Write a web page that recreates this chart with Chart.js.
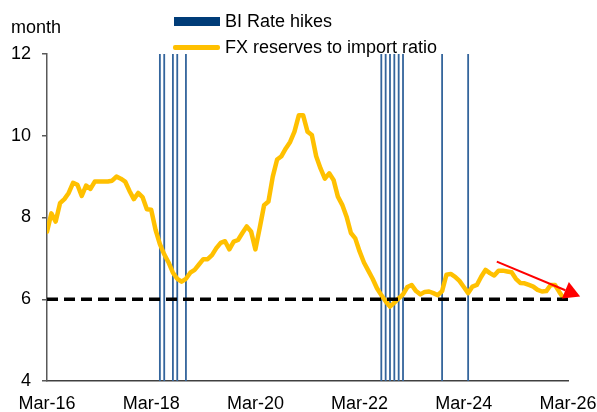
<!DOCTYPE html>
<html>
<head>
<meta charset="utf-8">
<script src="https://cdn.jsdelivr.net/npm/chart.js@4.4.1/dist/chart.umd.min.js"></script>
<style>
  body { margin: 0; background: #fff; }
  #wrap { position: relative; width: 597px; height: 412px; font-family: "Liberation Sans", Arial, sans-serif; color: #000; }
  #chart { position: absolute; left: 0; top: 0; }
  .lbl { position: absolute; font-size: 18px; line-height: 20px; white-space: nowrap; }
  .swatch { position: absolute; }
</style>
</head>
<body>
<div id="wrap">
  <canvas id="chart" width="597" height="412"></canvas>
  <div class="lbl" style="left:11px;top:17px;">month</div>
  <div class="swatch" style="left:174px;top:17px;width:46px;height:9px;background:#003C78;"></div>
  <div class="lbl" style="left:225px;top:11px;">BI Rate hikes</div>
  <div class="swatch" style="left:173px;top:45px;width:47px;height:5px;background:#FFC000;border-radius:2px;"></div>
  <div class="lbl" style="left:225px;top:37px;">FX reserves to import ratio</div>
</div>
<script>
// months counted from Mar-16 (0) to Mar-26 (120)
const xTickLabels = ['Mar-16', 'Mar-18', 'Mar-20', 'Mar-22', 'Mar-24', 'Mar-26'];
const yTicks = [4, 6, 8, 10, 12];

// FX reserves to import ratio, monthly from Mar-16
const fxRatio = [
  7.65, 8.1, 7.9, 8.35, 8.45, 8.6, 8.85, 8.8, 8.53, 8.78,
  8.7, 8.88, 8.88, 8.88, 8.88, 8.9, 9.0, 8.95, 8.88, 8.65,
  8.45, 8.6, 8.5, 8.2, 8.19, 7.7, 7.35, 7.1, 6.9, 6.65,
  6.5, 6.43, 6.5, 6.65, 6.72, 6.85, 6.98, 6.98, 7.08, 7.25,
  7.38, 7.42, 7.22, 7.41, 7.45, 7.62, 7.78, 7.66, 7.22, 7.75,
  8.3, 8.39, 9.0, 9.42, 9.5, 9.69, 9.85, 10.1, 10.5, 10.5,
  10.1, 10.02, 9.5, 9.2, 8.95, 9.08, 8.92, 8.51, 8.31, 8.02,
  7.62, 7.49, 7.17, 6.9, 6.7, 6.5, 6.27, 6.1, 5.95, 5.82,
  5.92, 6.02, 6.12, 6.3, 6.35, 6.2, 6.12, 6.18, 6.19, 6.15,
  6.1, 6.2, 6.6, 6.62, 6.55, 6.45, 6.3, 6.15, 6.31, 6.35,
  6.55, 6.72, 6.64, 6.58, 6.7, 6.7, 6.68, 6.66, 6.5, 6.4,
  6.39, 6.35, 6.31, 6.23, 6.19, 6.2, 6.35, 6.35, 6.18, 6.02
];

// months with BI Rate hikes
const hikeMonths = [26, 27, 29, 30, 32, 77, 78, 79, 80, 81, 82, 91, 97];

const thresholdLevel = 6;
// red trend arrow: start and tip (month, value)
const arrowFrom = [103.6, 6.92];
const arrowTo = [122.8, 6.07];

const fxPoints = fxRatio.map((v, i) => ({ x: i, y: v }));
const hikePoints = [];
hikeMonths.forEach(m => {
  hikePoints.push({ x: m, y: 4 }, { x: m, y: 12 }, { x: m, y: null });
});

const arrowPlugin = {
  id: 'arrow',
  afterDatasetsDraw(chart) {
    const { ctx, scales: { x, y } } = chart;
    const x0 = x.getPixelForValue(arrowFrom[0]), y0 = y.getPixelForValue(arrowFrom[1]);
    const x1 = x.getPixelForValue(arrowTo[0]), y1 = y.getPixelForValue(arrowTo[1]);
    const ang = Math.atan2(y1 - y0, x1 - x0);
    const headLen = 16, headW = 9;
    const bx = x1 - headLen * Math.cos(ang), by = y1 - headLen * Math.sin(ang);
    ctx.save();
    ctx.strokeStyle = '#FF0000';
    ctx.fillStyle = '#FF0000';
    ctx.lineWidth = 2;
    ctx.beginPath();
    ctx.moveTo(x0, y0);
    ctx.lineTo(bx, by);
    ctx.stroke();
    ctx.beginPath();
    ctx.moveTo(x1, y1);
    ctx.lineTo(bx + headW * Math.sin(ang), by - headW * Math.cos(ang));
    ctx.lineTo(bx - headW * Math.sin(ang), by + headW * Math.cos(ang));
    ctx.closePath();
    ctx.fill();
    ctx.restore();
  }
};

const fxChart = new Chart(document.getElementById('chart'), {
  type: 'line',
  data: {
    datasets: [{
      label: 'threshold',
      data: [{ x: 0, y: thresholdLevel }, { x: 120, y: thresholdLevel }],
      borderColor: '#000000',
      borderWidth: 3.5,
      borderDash: [11, 6],
      pointRadius: 0
    }, {
      label: 'FX reserves to import ratio',
      data: fxPoints,
      borderColor: '#FFC000',
      borderWidth: 4.5,
      borderJoinStyle: 'round',
      borderCapStyle: 'round',
      pointRadius: 0,
      tension: 0
    }, {
      label: 'BI Rate hikes',
      data: hikePoints,
      borderColor: '#34659C',
      borderWidth: 1.8,
      pointRadius: 0,
      spanGaps: false
    }]
  },
  options: {
    responsive: false,
    animation: false,
    devicePixelRatio: 1,
    layout: { padding: { left: 0, right: 29, top: 54, bottom: 0 } },
    plugins: { legend: { display: false }, tooltip: { enabled: false } },
    scales: {
      x: {
        type: 'linear',
        min: 0,
        max: 120,
        afterBuildTicks(scale) {
          scale.ticks = xTickLabels.map((_, i) => ({ value: i * 24 }));
        },
        afterFit(scale) {
          scale.height = 31;
          scale.paddingLeft = 0;
          scale.paddingRight = 0;
        },
        grid: { display: false, drawTicks: false },
        border: { display: true, color: '#404040', width: 1.5 },
        ticks: {
          padding: 12,
          maxRotation: 0,
          autoSkip: false,
          color: '#000',
          font: { family: '"Liberation Sans", Arial, sans-serif', size: 18 },
          callback: v => xTickLabels[v / 24]
        }
      },
      y: {
        min: 4,
        max: 12,
        afterBuildTicks(scale) {
          scale.ticks = yTicks.map(v => ({ value: v }));
        },
        afterFit(scale) {
          scale.width = 47;
          scale.paddingTop = 0;
          scale.paddingBottom = 0;
        },
        grid: { drawOnChartArea: false, drawTicks: true, tickLength: 5, color: '#595959', lineWidth: 1.5 },
        border: { display: true, color: '#595959', width: 1.5 },
        ticks: {
          padding: 11,
          color: '#000',
          font: { family: '"Liberation Sans", Arial, sans-serif', size: 18 }
        }
      }
    }
  },
  plugins: [arrowPlugin]
});
</script>
</body>
</html>
